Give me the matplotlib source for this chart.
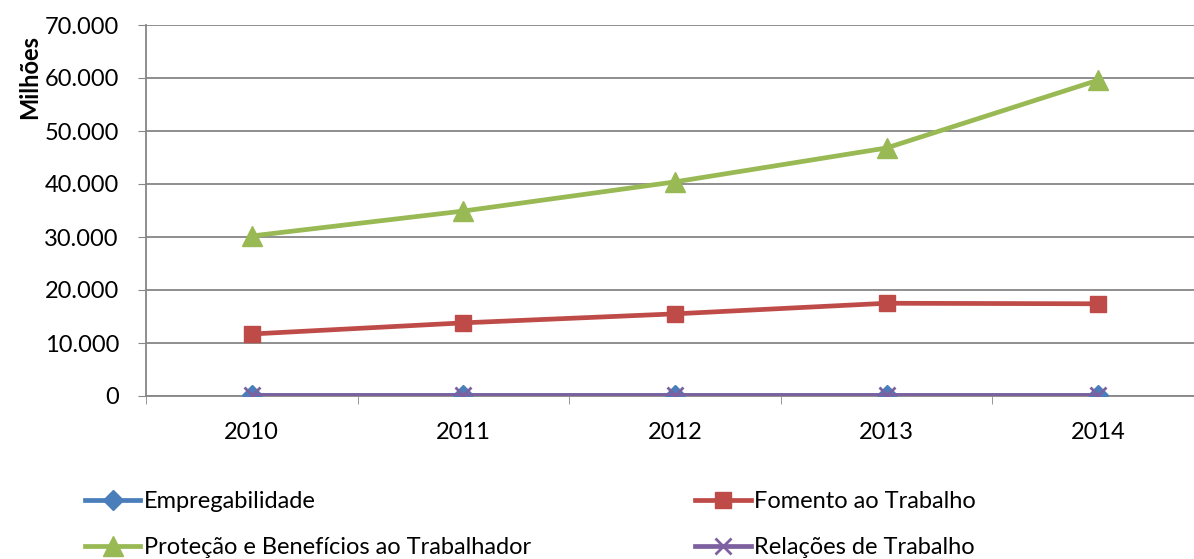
import matplotlib.pyplot as plt
from matplotlib.ticker import FuncFormatter

years = ['2010', '2011', '2012', '2013', '2014']
empregabilidade = [250, 250, 250, 250, 250]
fomento = [11700, 13800, 15500, 17500, 17400]
protecao = [30200, 34900, 40400, 46800, 59600]
relacoes = [120, 120, 120, 120, 120]

plt.rcParams['font.family'] = ['Lato', 'DejaVu Sans']

fig = plt.figure(figsize=(11.94, 5.59), dpi=100)
ax = fig.add_axes([146 / 1194, 163 / 559, 1058 / 1194, 371 / 559])

x = range(len(years))
lw = 3.4
h_emp, = ax.plot(x, empregabilidade, color='#4a7ebb', lw=lw, marker='D', ms=10, label='Empregabilidade', zorder=3)
h_fom, = ax.plot(x, fomento, color='#be4b48', lw=lw, marker='s', ms=12, label='Fomento ao Trabalho', zorder=3)
h_pro, = ax.plot(x, protecao, color='#98b954', lw=lw, marker='^', ms=14, label='Proteção e Benefícios ao Trabalhador', zorder=3)
h_rel, = ax.plot(x, relacoes, color='#7d60a0', lw=lw, marker='x', ms=12, mew=2, label='Relações de Trabalho', zorder=4)

ax.set_xlim(-0.5, len(years) - 0.5)
ax.set_ylim(0, 70000)
ax.set_yticks(range(0, 70001, 10000))
ax.yaxis.set_major_formatter(FuncFormatter(lambda v, p: f'{int(v):,}'.replace(',', '.')))
ax.set_xticks(list(x))
ax.set_xticklabels(years)
ax.set_xticks([i + 0.5 for i in range(-1, len(years))], minor=True)
ax.tick_params(axis='x', which='major', length=0, pad=19, labelsize=17)
ax.tick_params(axis='x', which='minor', length=5.5, color='#868686')
ax.tick_params(axis='y', length=5.5, color='#868686', labelsize=17, pad=14)

ax.grid(axis='y', color='#868686', lw=1.3)
ax.set_axisbelow(True)
for s in ['top', 'right']:
    ax.spines[s].set_visible(False)
for s in ['left', 'bottom']:
    ax.spines[s].set_color('#868686')
    ax.spines[s].set_linewidth(1.3)

fig.text(30 / 1194, 1 - 77 / 559, 'Milhões', rotation=90, fontsize=17, fontweight='bold',
         ha='center', va='center')

fig.legend([h_emp, h_pro, h_fom, h_rel],
           [h.get_label() for h in [h_emp, h_pro, h_fom, h_rel]],
           ncol=2, loc='upper left', bbox_to_anchor=(85 / 1194, 1 - 491 / 559),
           frameon=False, fontsize=17, handlelength=2.35, handletextpad=0.15,
           columnspacing=6.95, labelspacing=1.05, borderpad=0, borderaxespad=0)

fig.savefig('out.png', dpi=100)
